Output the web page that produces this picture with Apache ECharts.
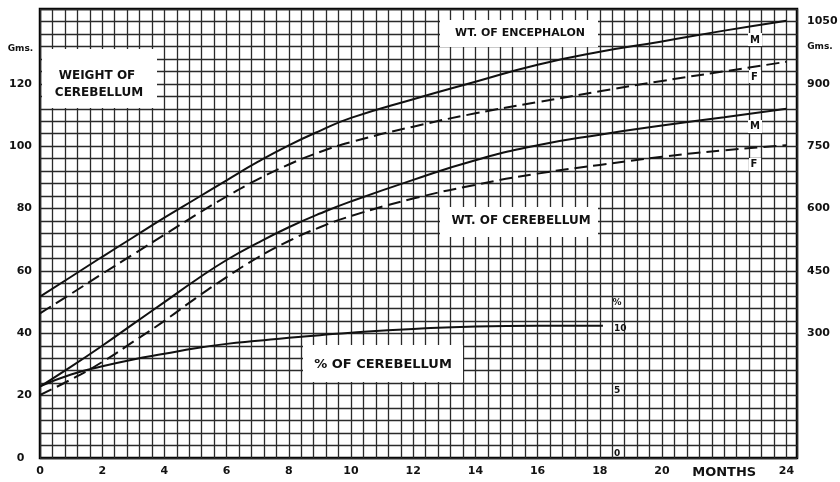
<!DOCTYPE html>
<html><head><meta charset="utf-8">
<script src="https://cdn.jsdelivr.net/npm/echarts@6/dist/echarts.min.js"></script>
<style>html,body{margin:0;padding:0;background:#fff}#c{width:840px;height:482px}</style>
</head><body><div id="c"></div>
<script>
// Months of age
const months = [0,1,2,3,4,5,6,7,8,9,10,12,14,16,18,20,22,24];
// Weight of encephalon (grams, right scale)
const encephalonMale   = [388,436,484,531,578,623,668,712,752,787,818,863,905,946,977,1002,1028,1052];
const encephalonFemale = [348,395,443,490,537,584,629,670,706,736,760,797,829,856,882,907,930,953];
// Weight of cerebellum (grams, left scale)
const cerebellumMale   = [22.9,29.3,36,43,50,57,63.5,69,74,78.4,82.3,89.2,95.5,100.3,103.7,106.6,109.3,112];
const cerebellumFemale = [20.2,25.2,30.8,37.3,44,51.2,58,64.3,69.6,74,77.6,83.2,87.6,91.2,94,96.6,98.7,100.3];
// Cerebellum as % of encephalon
const pctMonths = [0,1,2,3,4,5,6,7,8,9,10,12,14,16,18.1];
const pctCerebellum = [5.75,6.7,7.35,7.9,8.35,8.8,9.15,9.4,9.65,9.85,10.05,10.35,10.55,10.6,10.6];
// Tick labels
const leftTicks = [0,20,40,60,80,100,120];
const rightTicks = [300,450,600,750,900,1050];
const pctTicks = [0,5,10];
const monthTicks = [0,2,4,6,8,10,12,14,16,18,20,22,24];
const monthLabelOverride = {22: 'MONTHS'};

const FONT = '"DejaVu Sans", sans-serif';
const INK = '#111';
const pair = (xs, ys) => xs.map((x, i) => [x, ys[i]]);
const near = (v, arr) => arr.some(a => Math.abs(a - v) < 1e-6);

const lineStyle = (dashed) => ({color: INK, width: 2, type: dashed ? [13, 6] : 'solid'});
const mkSeries = (name, xs, ys, yIdx, dashed) => ({
  name, type: 'line', data: pair(xs, ys), yAxisIndex: yIdx,
  smooth: 0.5, showSymbol: false, symbol: 'none',
  lineStyle: lineStyle(dashed), z: 5, silent: true
});

const box = (x, y, w, h) => ({type: 'rect', shape: {x, y, width: w, height: h}, style: {fill: '#fff'}, z: 100, silent: true});
const txt = (x, y, text, size) => ({type: 'text', x, y, z: 101, silent: true,
  style: {text, fill: INK, font: 'bold ' + size + 'px ' + FONT, align: 'center', verticalAlign: 'middle'}});

const chart = echarts.init(document.getElementById('c'), null, {renderer: 'canvas'});
chart.setOption({
  animation: false,
  backgroundColor: '#fff',
  grid: {left: 40, top: 9, width: 757, height: 449, show: true, borderColor: '#000', borderWidth: 2.5,
         containLabel: false, outerBoundsMode: 'none'},
  xAxis: {
    type: 'value', min: 0, max: 24.34, interval: 0.4,
    axisLine: {show: false}, axisTick: {show: false},
    splitLine: {show: true, lineStyle: {color: '#2a2a2a', width: 1.3}},
    axisLabel: {
      margin: 8, color: INK, fontFamily: FONT, fontWeight: 'bold', fontSize: 11,
      formatter: v => {
        for (const t of monthTicks) if (Math.abs(v - t) < 1e-6) return monthLabelOverride[t] ? '{m|' + monthLabelOverride[t] + '}' : String(t);
        return '';
      },
      rich: {m: {fontFamily: FONT, fontWeight: 'bold', fontSize: 13, color: INK}}
    }
  },
  yAxis: [
    {
      type: 'value', position: 'left', min: 0, max: 144, interval: 4,
      axisLine: {show: false}, axisTick: {show: false},
      splitLine: {show: true, lineStyle: {color: '#2a2a2a', width: 1.3}},
      axisLabel: {margin: 8, color: INK, fontFamily: FONT, fontWeight: 'bold', fontSize: 11,
        formatter: v => near(v, leftTicks) ? (v === 0 ? '0\u2007' : String(v)) : ''}
    },
    {
      type: 'value', position: 'right', min: 0, max: 1080, interval: 150,
      axisLine: {show: false}, axisTick: {show: false}, splitLine: {show: false},
      axisLabel: {margin: 10, color: INK, fontFamily: FONT, fontWeight: 'bold', fontSize: 11,
        formatter: v => near(v, rightTicks) ? String(v) : ''}
    },
    {
      type: 'value', position: 'right', offset: -185, min: 0, max: 36,
      axisLine: {show: false}, axisTick: {show: false}, splitLine: {show: false},
      axisLabel: {margin: 2, color: INK, fontFamily: FONT, fontWeight: 'bold', fontSize: 9,
        verticalAlign: 'bottom', customValues: pctTicks, formatter: v => String(v)}
    }
  ],
  series: [
    mkSeries('Encephalon M', months, encephalonMale, 1, false),
    mkSeries('Encephalon F', months, encephalonFemale, 1, true),
    mkSeries('Cerebellum M', months, cerebellumMale, 0, false),
    mkSeries('Cerebellum F', months, cerebellumFemale, 0, true),
    mkSeries('% of cerebellum', pctMonths, pctCerebellum, 2, false)
  ],
  graphic: [
    txt(20.5, 49, 'Gms.', 9),
    txt(820, 47, 'Gms.', 9),
    txt(617, 303, '%', 9),
    box(42, 49, 115, 59), txt(97, 76, 'WEIGHT OF', 12), txt(99, 93, 'CEREBELLUM', 12),
    box(440, 20, 158, 27), txt(520, 33, 'WT. OF ENCEPHALON', 11),
    box(440, 207, 158, 30), txt(521, 221, 'WT. OF CEREBELLUM', 12),
    box(303, 345, 160, 37), txt(383, 365, '% OF CEREBELLUM', 13),
    box(748, 33, 14, 13), txt(755, 40, 'M', 10),
    box(749, 70, 12, 13), txt(754.5, 77, 'F', 10),
    box(748, 120, 14, 13), txt(755, 126.5, 'M', 10),
    box(749, 158, 12, 13), txt(754, 164, 'F', 10)
  ]
});
</script>
</body></html>
